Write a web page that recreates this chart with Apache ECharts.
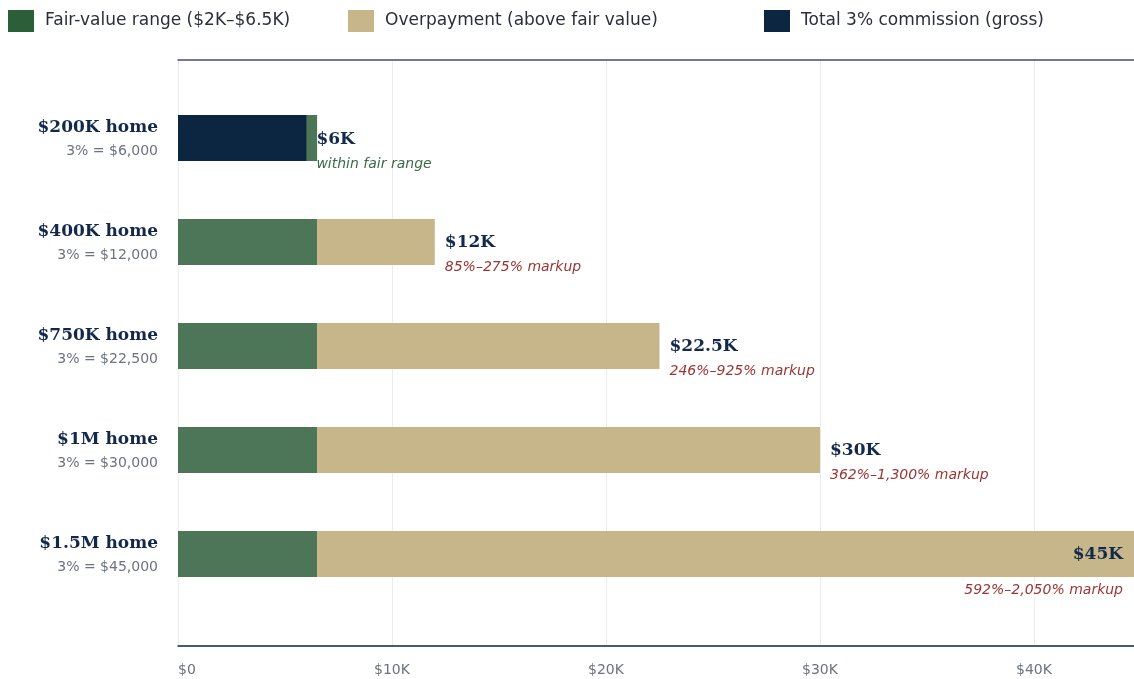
<!DOCTYPE html>
<html><head><meta charset="utf-8">
<script src="https://cdn.jsdelivr.net/npm/echarts@6/dist/echarts.min.js"></script>
<style>html,body{margin:0;padding:0;background:#fff}#c{width:1134px;height:679px}</style>
</head><body><div id="c"></div>
<script>
const homes = ['$200K home','$400K home','$750K home','$1M home','$1.5M home'];
const subLabels = ['3% = $6,000','3% = $12,000','3% = $22,500','3% = $30,000','3% = $45,000'];
const fairValue = [6500, 6500, 6500, 6500, 6500];
const overpayment = [0, 5500, 16000, 23500, 38500];
const totalCommission = [6000, 12000, 22500, 30000, 45000];
const totalLabels = ['$6K','$12K','$22.5K','$30K','$45K'];
const notes = ['within fair range','85%–275% markup','246%–925% markup','362%–1,300% markup','592%–2,050% markup'];
const xTicks = {0:'$0',10000:'$10K',20000:'$20K',30000:'$30K',40000:'$40K'};

const NAVY = '#0c2642', GREEN = '#2d5e3a', TAN = '#c6b689';
const SANS = '"DejaVu Sans"', SERIF = '"DejaVu Serif"';
const X_MAX = 45000;

const totalData = totalCommission.map((v, i) => {
  const item = { value: v, itemStyle: { color: i === 0 ? NAVY : 'rgba(0,0,0,0)' } };
  if (i === totalCommission.length - 1) {
    item.label = {
      position: 'insideRight', distance: 18, offset: [0, 24],
      formatter: p => '{v|' + totalLabels[p.dataIndex] + '}\n{n2|' + notes[p.dataIndex] + '}'
    };
  } else if (i === 0) {
    item.label = { offset: [0, 14],
      formatter: p => '{v|' + totalLabels[p.dataIndex] + '}\n{g|' + notes[p.dataIndex] + '}' };
  }
  return item;
});

const legendBase = { top: 10, padding: 0, itemWidth: 26, itemHeight: 22, icon: 'rect',
  textStyle: { fontFamily: SANS, fontSize: 17, color: '#2b2f3a', padding: [2,0,0,6] } };

const chart = echarts.init(document.getElementById('c'));
chart.setOption({
  animation: false,
  legend: [
    Object.assign({}, legendBase, { left: 8,
      data: [{ name: 'Fair-value range ($2K–$6.5K)', itemStyle: { opacity: 1, color: GREEN } }] }),
    Object.assign({}, legendBase, { left: 348, data: ['Overpayment (above fair value)'] }),
    Object.assign({}, legendBase, { left: 764,
      data: [{ name: 'Total 3% commission (gross)', itemStyle: { color: NAVY } }] })
  ],
  grid: [
    { left: 178, width: 963, top: 86, height: 520, outerBoundsMode: 'none', containLabel: false },
    { left: 178, width: 963, top: 60, height: 586, outerBoundsMode: 'none', containLabel: false }
  ],
  xAxis: [
    { gridIndex: 0, type: 'value', min: 0, max: X_MAX, show: false },
    { gridIndex: 1, type: 'value', min: 0, max: X_MAX, interval: 10000, position: 'bottom',
      axisLine: { show: true, lineStyle: { color: '#0c2642', width: 1.5 } },
      axisTick: { show: false },
      splitLine: { show: true, lineStyle: { color: '#ececec', width: 1 } },
      axisLabel: { margin: 17, showMaxLabel: false, alignMinLabel: 'left',
        fontFamily: SANS, fontSize: 14, color: '#6b7280',
        formatter: v => xTicks[v] !== undefined ? xTicks[v] : '' } },
    { gridIndex: 1, type: 'value', min: 0, max: X_MAX, position: 'top',
      axisLine: { show: true, lineStyle: { color: '#3f5168', width: 1.5 } },
      axisTick: { show: false }, axisLabel: { show: false }, splitLine: { show: false } }
  ],
  yAxis: [
    { gridIndex: 0, type: 'category', inverse: true, data: homes,
      axisLine: { show: false }, axisTick: { show: false },
      axisLabel: { margin: 20, align: 'right',
        formatter: (v, i) => '{t|' + v + '}\n{s|' + subLabels[i] + '}',
        rich: {
          t: { fontFamily: SERIF, fontWeight: 'bold', fontSize: 17, color: '#13294b', lineHeight: 26, align: 'right' },
          s: { fontFamily: SANS, fontSize: 14, color: '#6b7280', lineHeight: 20, align: 'right' }
        } } },
    { gridIndex: 1, type: 'value', min: 0, max: 1, show: false }
  ],
  series: [
    { name: 'Fair-value range ($2K–$6.5K)', type: 'bar', stack: 'a', xAxisIndex: 0, yAxisIndex: 0,
      barWidth: 46, data: fairValue, color: GREEN, itemStyle: { color: GREEN, opacity: 0.85 } },
    { name: 'Overpayment (above fair value)', type: 'bar', stack: 'a', xAxisIndex: 0, yAxisIndex: 0,
      barWidth: 46, data: overpayment, color: TAN, itemStyle: { color: TAN } },
    { name: 'Total 3% commission (gross)', type: 'bar', xAxisIndex: 0, yAxisIndex: 0,
      barWidth: 46, barGap: '-100%', color: NAVY, z: 3, data: totalData,
      label: { show: true, position: 'right', distance: 10, offset: [0, 13],
        formatter: p => '{v|' + totalLabels[p.dataIndex] + '}\n{n|' + notes[p.dataIndex] + '}',
        rich: {
          v: { fontFamily: SERIF, fontWeight: 'bold', fontSize: 17, color: '#13294b', lineHeight: 24 },
          n: { fontFamily: SANS, fontStyle: 'italic', fontSize: 14, color: '#9b3535', lineHeight: 24 },
          n2: { fontFamily: SANS, fontStyle: 'italic', fontSize: 14, color: '#9b3535', lineHeight: 46 },
          g: { fontFamily: SANS, fontStyle: 'italic', fontSize: 14, color: '#3a6b45', lineHeight: 24 }
        } } }
  ]
});
</script></body></html>
